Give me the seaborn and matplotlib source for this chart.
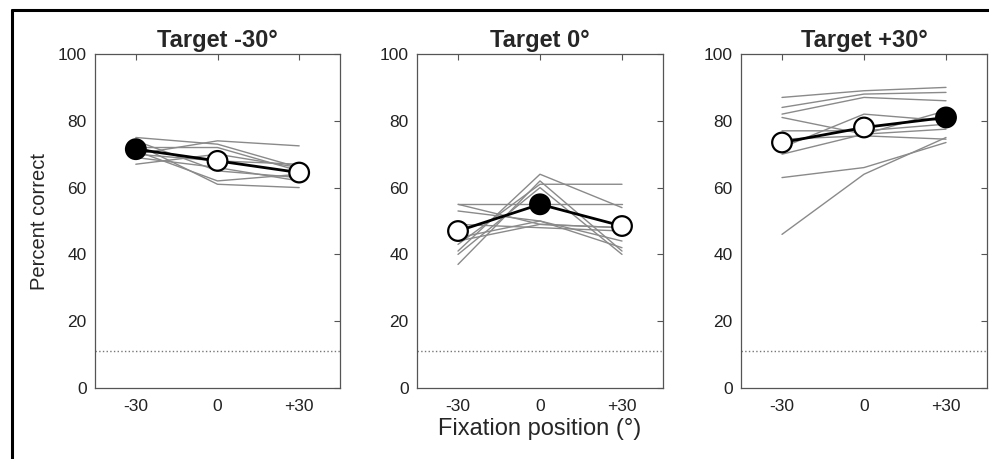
import numpy as np
import pandas as pd
import matplotlib
matplotlib.use("Agg")
import matplotlib.pyplot as plt
from matplotlib.lines import Line2D
import seaborn as sns

sns.set_style("white")
plt.rcParams['font.family'] = ['Liberation Sans', 'DejaVu Sans']

fixations = [-30, 0, 30]
fix_labels = ['-30', '0', '+30']
titles = ['Target -30°', 'Target 0°', 'Target +30°']
target_pos = [-30, 0, 30]
chance = 11.1

# individual subjects (values at fixation -30, 0, +30)
subj_t_m30 = [
    [75, 73, 66], [74, 65, 63], [70, 74, 72.5], [73, 61, 60], [67, 70, 66],
    [72, 72, 65], [69, 66, 62], [71, 62, 64], [70, 68, 67],
]
subj_t_0 = [
    [37, 62, 41], [41, 64, 54], [55, 55, 55], [43, 61, 61], [53, 50, 44],
    [55, 49, 48], [45, 50, 42], [49, 48, 47], [40, 60, 40], [44, 49, 48],
]
subj_t_p30 = [
    [46, 64, 75], [63, 66, 73.5], [87, 89, 90], [84, 88, 88.5], [82, 87, 86],
    [81, 76, 77.5], [77, 77, 79], [72, 82, 80], [70, 76, 83], [74.5, 75.5, 74.5],
]
mean_t_m30 = [71.5, 68, 64.5]
mean_t_0 = [47, 55, 48.5]
mean_t_p30 = [73.5, 78, 81]

subjects = [subj_t_m30, subj_t_0, subj_t_p30]
means = [mean_t_m30, mean_t_0, mean_t_p30]

W, H = 989, 459
fig = plt.figure(figsize=(W / 100, H / 100), dpi=100)
lefts = [95, 417, 741]
widths = [245, 246, 246]
top_px, bot_px = 54, 388

spine_col = '#555555'
for i in range(3):
    ax = fig.add_axes([lefts[i] / W, 1 - bot_px / H, widths[i] / W, (bot_px - top_px) / H])
    rows = []
    for s, vals in enumerate(subjects[i]):
        for f, v in zip(fixations, vals):
            rows.append({'subject': s, 'fix': f, 'pc': v})
    df = pd.DataFrame(rows)
    sns.lineplot(data=df, x='fix', y='pc', units='subject', estimator=None,
                 color='#8a8a8a', lw=1.0, ax=ax, legend=False)
    mdf = pd.DataFrame({'fix': fixations, 'pc': means[i],
                        'filled': [f == target_pos[i] for f in fixations]})
    sns.lineplot(data=mdf, x='fix', y='pc', color='black', lw=2.0, ax=ax, legend=False)
    sns.scatterplot(data=mdf, x='fix', y='pc', hue='filled',
                    palette={True: 'black', False: 'white'}, edgecolor='black',
                    linewidth=1.6, s=200, ax=ax, legend=False, zorder=5)
    ax.axhline(chance, color='#777777', ls=':', lw=1.0)
    ax.set_xlim(-45, 45)
    ax.set_ylim(0, 100)
    ax.set_xticks(fixations)
    ax.set_xticklabels(fix_labels)
    ax.set_yticks([0, 20, 40, 60, 80, 100])
    ax.tick_params(direction='in', length=4, width=0.8, color=spine_col,
                   top=True, right=True, labelsize=12.5, labelcolor='#222222')
    ax.tick_params(axis='x', pad=8)
    ax.tick_params(axis='y', pad=6)
    for sp in ax.spines.values():
        sp.set_visible(True)
        sp.set_color(spine_col)
        sp.set_linewidth(0.9)
    ax.set_title(titles[i], fontsize=17, fontweight='bold', pad=5)
    ax.set_xlabel('Fixation position (°)' if i == 1 else '', fontsize=17, labelpad=3)
    ax.set_ylabel('Percent correct' if i == 0 else '', fontsize=14.5, labelpad=6)

# partial frame around figure (top and left edges)
fig.add_artist(Line2D([12 / W, 12 / W], [0, 1 - 10 / H], transform=fig.transFigure,
                      color='black', lw=2.2))
fig.add_artist(Line2D([12 / W, 1.0], [1 - 10 / H, 1 - 10 / H], transform=fig.transFigure,
                      color='black', lw=2.2))

fig.savefig('out.png', dpi=100)
